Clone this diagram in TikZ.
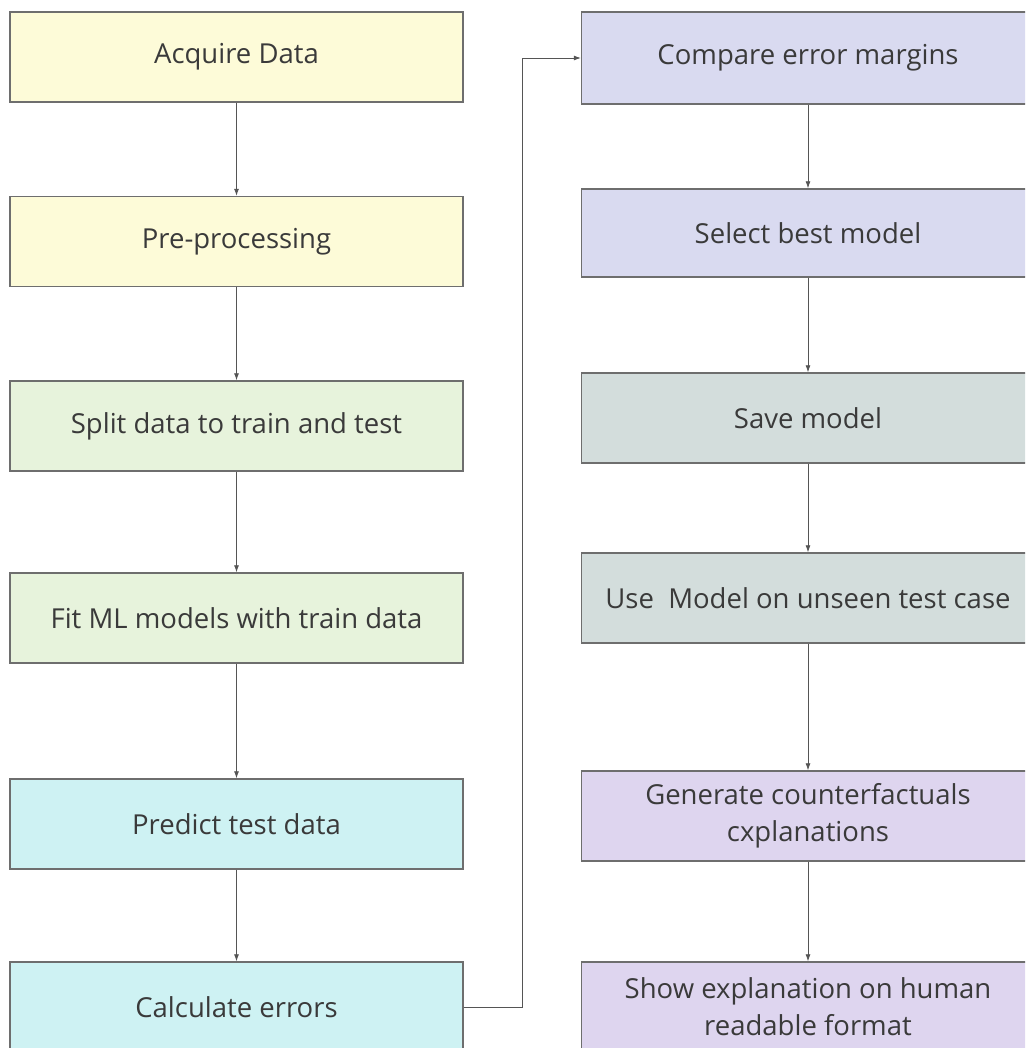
\documentclass[tikz,border=0pt]{standalone}
\usepackage{fontspec}
\setmainfont{Open Sans}
\usetikzlibrary{arrows.meta}
\definecolor{boxline}{HTML}{6E6E6E}
\definecolor{txt}{HTML}{3A3A3A}
\definecolor{cyellow}{HTML}{FDFBD8}
\definecolor{cgreen}{HTML}{E7F3DC}
\definecolor{ccyan}{HTML}{CEF2F3}
\definecolor{cblue}{HTML}{D9DAF0}
\definecolor{cgray}{HTML}{D3DDDC}
\definecolor{cpurple}{HTML}{DED5EF}
\definecolor{linkc}{HTML}{555555}
\tikzset{
  stepbox/.style={draw=boxline, line width=1.4pt, minimum width=453pt, minimum height=90pt,
    inner sep=0pt, align=center, text=txt, font=\fontsize{27.5}{37}\selectfont},
  link/.style={draw=linkc, line width=0.8pt, -{Latex[length=7pt,width=5pt]}}
}
\begin{document}
\begin{tikzpicture}[x=1pt,y=-1pt]
\useasboundingbox (0,0) rectangle (1025,1048);
\clip (0,0) rectangle (1025,1048);
% left column
\node[stepbox, fill=cyellow] (a1) at (236.5,57) {Acquire Data};
\node[stepbox, fill=cyellow] (a2) at (236.5,241.5) {Pre-processing};
\node[stepbox, fill=cgreen] (a3) at (236.5,426) {Split data to train and test};
\node[stepbox, fill=cgreen] (a4) at (236.5,618) {Fit ML models with train data};
\node[stepbox, fill=ccyan] (a5) at (236.5,824) {Predict test data};
\node[stepbox, fill=ccyan] (a6) at (236.5,1007) {Calculate errors};
% right column
\node[stepbox, fill=cblue, minimum height=92pt] (b1) at (808,58) {Compare error margins};
\node[stepbox, fill=cblue, minimum height=88pt] (b2) at (808,233) {Select best model};
\node[stepbox, fill=cgray] (b3) at (808,418) {Save model};
\node[stepbox, fill=cgray] (b4) at (808,598) {Use~~Model on unseen test case};
\node[stepbox, fill=cpurple] (b5) at (808,816) {Generate counterfactuals\\cxplanations};
\node[stepbox, fill=cpurple] (b6) at (808,1007) {Show explanation on human\\readable format};
% vertical flow
\draw[link] (a1) -- (a2);
\draw[link] (a2) -- (a3);
\draw[link] (a3) -- (a4);
\draw[link] (a4) -- (a5);
\draw[link] (a5) -- (a6);
\draw[link] (b1) -- (b2);
\draw[link] (b2) -- (b3);
\draw[link] (b3) -- (b4);
\draw[link] (b4) -- (b5);
\draw[link] (b5) -- (b6);
% hand-over between columns
\coordinate (turn) at (522,0);
\draw[link] (a6.east) -| (turn |- b1.west) -- (b1.west);
\end{tikzpicture}
\end{document}
